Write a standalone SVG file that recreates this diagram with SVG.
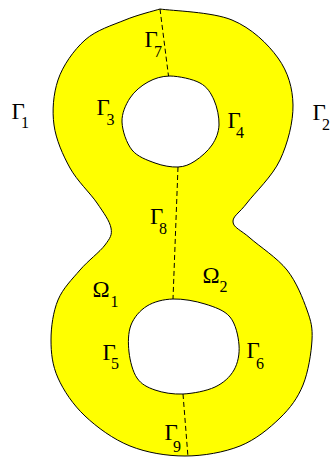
<svg xmlns="http://www.w3.org/2000/svg" width="331" height="457" viewBox="0 0 331 457">
<style>
.dom{fill:#ffff00;stroke:#000;stroke-width:1;fill-rule:evenodd}
.cut{fill:none;stroke:#000;stroke-width:1;stroke-dasharray:5 3}
.lb{font-family:"Liberation Serif","Times New Roman",serif;font-size:23px;fill:#000}
.sb{font-size:16px}
</style>
<rect width="331" height="457" fill="#fff"/>
<g id="domain">
<path class="dom" d="M160,9 C172,10.8 212.33,11.830 232,20 C251.67,28.17 267.83,43.83 278,58 C288.17,72.17 292.67,88 293,105 C293.33,122 287.67,143.67 280,160 C272.33,176.33 254.83,192.67 247,203 C239.17,213.33 232.5,216.17 233,222 C233.5,227.83 241,230 250,238 C259,246 277.5,258 287,270 C296.5,282 302.83,298.33 307,310 C311.17,321.67 312.67,327.5 312,340 C311.33,352.5 308.33,372 303,385 C297.67,398 290.5,407.83 280,418 C269.5,428.17 255.83,439.67 240,446 C224.17,452.33 203.33,456 185,456 C166.67,456 146.67,452.67 130,446 C113.33,439.33 97,427.33 85,416 C73,404.67 63.67,390.67 58,378 C52.33,365.33 51,353 51,340 C51,327 53.17,311.67 58,300 C62.83,288.33 72.17,279.17 80,270 C87.830,260.83 99.83,252 105,245 C110.17,238 112.33,235 111,228 C109.67,221 103.83,213 97,203 C90.17,193 77.17,181 70,168 C62.83,155 56,139.67 54,125 C52,110.33 53.33,94.17 58,80 C62.67,65.83 73.83,50 85,40 C96.17,30 112.5,25.17 125,20 C137.5,14.83 154.2,10.8 160,9 Z M170,76 C178.67,76.17 192.67,79 200,83 C207.33,87 210.83,93 214,100 C217.17,107 219.33,117.5 219,125 C218.67,132.5 216,139 212,145 C208,151 200.67,157.33 195,161 C189.33,164.67 184.67,166.67 178,167 C171.33,167.33 162.67,165.83 155,163 C147.33,160.17 137.5,156.83 132,150 C126.5,143.17 122.33,130.67 122,122 C121.67,113.33 125.67,104.67 130,98 C134.33,91.33 141.33,85.67 148,82 C154.67,78.33 161.33,76.17 170,76 Z M173,299 C182.67,298.67 195.5,301 205,304 C214.5,307 224.33,310.17 230,317 C235.67,323.83 238.33,336.17 239,345 C239.67,353.83 238,363 234,370 C230,377 223.5,383 215,387 C206.5,391 193,393.5 183,394 C173,394.5 162.67,392.67 155,390 C147.33,387.33 141.33,384.33 137,378 C132.67,371.67 130,360.83 129,352 C128,343.17 128,332.67 131,325 C134,317.33 140,310.33 147,306 C154,301.67 163.33,299.33 173,299 Z"/>
</g>
<g id="interfaces">
<line class="cut" x1="160" y1="9" x2="168.5" y2="76"/>
<line class="cut" x1="178" y1="167" x2="173" y2="299"/>
<line class="cut" x1="183" y1="394" x2="188" y2="457"/>
</g>
<g id="labels">
<text class="lb" id="g1" x="11.5" y="119">Γ<tspan class="sb" x="21" y="128">1</tspan></text>
<text class="lb" id="g2" x="312.5" y="120">Γ<tspan class="sb" x="322" y="130">2</tspan></text>
<text class="lb" id="g3" x="96.5" y="115">Γ<tspan class="sb" x="106.5" y="125">3</tspan></text>
<text class="lb" id="g4" x="227.5" y="128">Γ<tspan class="sb" x="236" y="138">4</tspan></text>
<text class="lb" id="g5" x="102.5" y="360">Γ<tspan class="sb" x="111" y="369">5</tspan></text>
<text class="lb" id="g6" x="246.5" y="358">Γ<tspan class="sb" x="256" y="369">6</tspan></text>
<text class="lb" id="g7" x="144.5" y="47">Γ<tspan class="sb" x="154" y="57">7</tspan></text>
<text class="lb" id="g8" x="150" y="224">Γ<tspan class="sb" x="159" y="234">8</tspan></text>
<text class="lb" id="g9" x="164.5" y="440">Γ<tspan class="sb" x="173" y="452">9</tspan></text>
<text class="lb" id="o1" x="92.5" y="297">Ω<tspan class="sb" x="110.5" y="307">1</tspan></text>
<text class="lb" id="o2" x="202.5" y="283">Ω<tspan class="sb" x="219.5" y="292">2</tspan></text>
</g>
</svg>
